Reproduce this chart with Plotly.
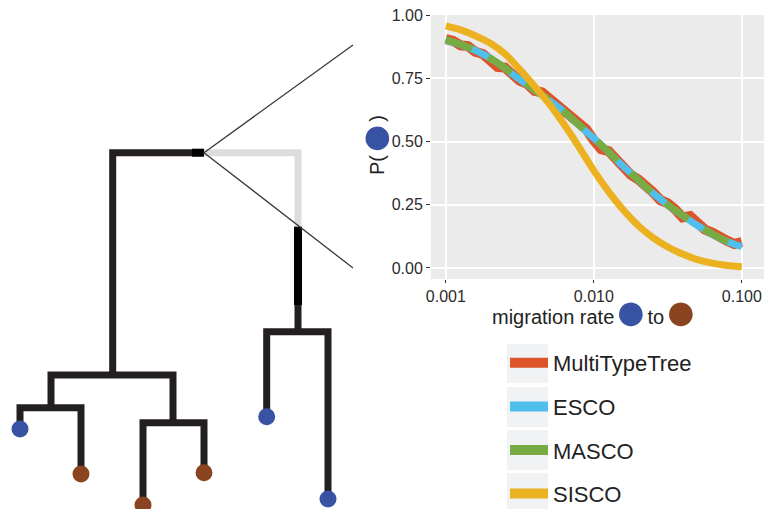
import plotly.graph_objects as go

# ---------------- data ----------------
rate = [0.00100, 0.00112, 0.00126, 0.00141, 0.00158, 0.00178, 0.00200, 0.00224, 0.00251, 0.00282,
        0.00316, 0.00355, 0.00398, 0.00447, 0.00501, 0.00562, 0.00631, 0.00708, 0.00794, 0.00891,
        0.0100, 0.0112, 0.0126, 0.0141, 0.0158, 0.0178, 0.0200, 0.0224, 0.0251, 0.0282,
        0.0316, 0.0355, 0.0398, 0.0447, 0.0501, 0.0562, 0.0631, 0.0708, 0.0794, 0.0891, 0.100]

p_multitypetree = [0.905, 0.898, 0.880, 0.877, 0.855, 0.846, 0.820, 0.795, 0.792, 0.765,
                   0.740, 0.728, 0.700, 0.694, 0.668, 0.650, 0.622, 0.590, 0.572, 0.548,
                   0.505, 0.470, 0.462, 0.432, 0.395, 0.368, 0.350, 0.318, 0.300, 0.268,
                   0.256, 0.232, 0.200, 0.205, 0.178, 0.152, 0.140, 0.120, 0.108, 0.095, 0.102]

p_esco = [0.901, 0.892, 0.883, 0.872, 0.860, 0.845, 0.828, 0.810, 0.790, 0.767,
          0.745, 0.725, 0.703, 0.683, 0.662, 0.640, 0.617, 0.591, 0.565, 0.539,
          0.513, 0.486, 0.458, 0.430, 0.402, 0.375, 0.347, 0.321, 0.296, 0.272,
          0.249, 0.228, 0.207, 0.187, 0.168, 0.151, 0.134, 0.118, 0.105, 0.094, 0.084]

p_masco = [0.903, 0.893, 0.884, 0.873, 0.861, 0.846, 0.829, 0.811, 0.791, 0.768,
           0.746, 0.726, 0.704, 0.684, 0.663, 0.641, 0.618, 0.592, 0.566, 0.540,
           0.514, 0.487, 0.459, 0.431, 0.403, 0.376, 0.348, 0.322, 0.297, 0.273,
           0.250, 0.229, 0.208, 0.188, 0.169, 0.152, 0.135, 0.119, 0.106, 0.095, 0.086]

rate_sisco = [0.00100, 0.00126, 0.00158, 0.00200, 0.00251, 0.00316, 0.00398, 0.00501, 0.00631, 0.00794,
              0.0100, 0.0126, 0.0158, 0.0200, 0.0251, 0.0316, 0.0398, 0.0501, 0.0631, 0.0794, 0.100]
p_sisco = [0.957, 0.941, 0.918, 0.888, 0.846, 0.785, 0.718, 0.648, 0.567, 0.478,
           0.385, 0.302, 0.230, 0.167, 0.120, 0.083, 0.055, 0.033, 0.019, 0.010, 0.005]

series_names = ["MultiTypeTree", "ESCO", "MASCO", "SISCO"]
series_colors = ["#dc5428", "#4fc0ee", "#76ac42", "#ecb120"]

x_tickvals = [0.001, 0.01, 0.1]
x_ticktext = ["0.001", "0.010", "0.100"]
x_minor_vals = [0.00316, 0.0316]
y_tickvals = [0.0, 0.25, 0.5, 0.75, 1.0]
y_ticktext = ["0.00", "0.25", "0.50", "0.75", "1.00"]
y_minor_vals = [0.125, 0.375, 0.625, 0.875]

# tree (schematic units): black branches, highlighted (grey) branch, emphasized segment
tree_dark_x = [204, 112.7, 112.7, None, 51, 51, 173, 173, None, 20, 20, 81, 81, None,
               143, 143, 204, 204, None, 298, 298, None, 266.7, 266.7, 328, 328]
tree_dark_y = [152.7, 152.7, 375, None, 407.7, 375, 375, 422.7, None, 429, 407.7, 407.7, 474, None,
               505, 422.7, 422.7, 472.7, None, 305, 331.7, None, 416.7, 331.7, 331.7, 499]
tree_grey_x = [204, 298, 298]
tree_grey_y = [152.7, 152.7, 226.7]
tree_black_x = [298, 298, None, 192, 204]
tree_black_y = [226.7, 305, None, 152.7, 152.7]
leaf_x = [20, 81, 143, 204, 266.7, 328]
leaf_y = [429, 474, 505, 472.7, 416.7, 499]
leaf_state = ["blue", "brown", "brown", "brown", "blue", "blue"]
state_colors = {"blue": "#3953a4", "brown": "#8a4420"}
zoom_x = [353, 204, 353]
zoom_y = [45, 152.7, 268]

# ---------------- figure ----------------
W, H = 764, 509
fig = go.Figure()

series = [(rate, p_multitypetree, 10, "solid"), (rate, p_esco, 7, "solid"),
          (rate, p_masco, 7, "28px,18px"), (rate_sisco, p_sisco, 7, "solid")]
for i, (xs, ys, w, dash) in enumerate(series):
    grp = series_names[i]
    fig.add_trace(go.Scatter(x=xs, y=ys, name=grp, mode="lines", showlegend=False,
                             line=dict(color=series_colors[i], width=w, dash=dash,
                                       shape="linear" if i == 0 else "spline"),
                             legendgroup=grp, xaxis="x", yaxis="y"))
for i, grp in enumerate(series_names):
    # legend key (ggplot-style solid bar)
    fig.add_trace(go.Scatter(x=[None], y=[None], name=grp, mode="lines", legendgroup=grp,
                             line=dict(color=series_colors[i], width=10), xaxis="x", yaxis="y"))

fig.add_trace(go.Scatter(x=tree_grey_x, y=tree_grey_y, mode="lines", showlegend=False,
                         line=dict(color="#dcdddd", width=7), xaxis="x2", yaxis="y2", hoverinfo="skip"))
fig.add_trace(go.Scatter(x=tree_dark_x, y=tree_dark_y, mode="lines", showlegend=False,
                         line=dict(color="#231f20", width=7), xaxis="x2", yaxis="y2", hoverinfo="skip"))
fig.add_trace(go.Scatter(x=tree_black_x, y=tree_black_y, mode="lines", showlegend=False,
                         line=dict(color="#000000", width=8), xaxis="x2", yaxis="y2", hoverinfo="skip"))
fig.add_trace(go.Scatter(x=leaf_x, y=leaf_y, mode="markers", showlegend=False,
                         marker=dict(color=[state_colors[s] for s in leaf_state], size=17),
                         xaxis="x2", yaxis="y2", hoverinfo="skip"))
fig.add_trace(go.Scatter(x=zoom_x, y=zoom_y, mode="lines", showlegend=False,
                         line=dict(color="#3a3a3a", width=1.3), xaxis="x2", yaxis="y2", hoverinfo="skip"))

panel_l, panel_r, panel_t, panel_b = 431, 764, 15, 279
tick_font = dict(family="Liberation Sans, Arial, sans-serif", size=16, color="#2b2b2b")
x_range = [-3.1, -0.85]
y_range = [-0.0435, 1.0]
dot = '<span style="color:{c};font-size:55px;baseline-shift:{s}px">●</span>'
x_title = "migration rate" + dot.format(c="#3953a4", s=-6) + "to" + dot.format(c="#8a4420", s=-6)
y_title = "P(" + dot.format(c="#3953a4", s=-9) + ")"

fig.update_layout(
    width=W, height=H,
    margin=dict(l=0, r=0, t=0, b=0, autoexpand=False),
    paper_bgcolor="white", plot_bgcolor="rgba(0,0,0,0)",
    font=dict(family="Liberation Sans, Arial, sans-serif", color="#222222"),
    xaxis=dict(
        domain=[panel_l / W, panel_r / W], type="log", range=x_range,
        tickmode="array", tickvals=x_tickvals, ticktext=x_ticktext,
        ticks="outside", ticklen=3, tickcolor="#333333", tickwidth=1,
        tickfont=tick_font, showgrid=True, gridcolor="white", gridwidth=1.6,
        zeroline=False, showline=False, automargin=False, anchor="y",
    ),
    yaxis=dict(
        domain=[1 - panel_b / H, 1 - panel_t / H], range=y_range,
        tickmode="array", tickvals=y_tickvals, ticktext=y_ticktext,
        ticks="outside", ticklen=4, tickcolor="#333333", tickwidth=1,
        tickfont=tick_font, showgrid=True, gridcolor="white", gridwidth=1.6,
        zeroline=False, showline=False, automargin=False, anchor="x",
    ),
    # thin secondary grid (ggplot minor grid lines)
    xaxis3=dict(overlaying="x", anchor="y", type="log", range=x_range,
                tickmode="array", tickvals=x_minor_vals, showticklabels=False, ticks="",
                showgrid=True, gridcolor="white", gridwidth=0.8, zeroline=False, showline=False),
    yaxis3=dict(overlaying="y", anchor="x", range=y_range,
                tickmode="array", tickvals=y_minor_vals, showticklabels=False, ticks="",
                showgrid=True, gridcolor="white", gridwidth=0.8, zeroline=False, showline=False),
    xaxis2=dict(domain=[0, 1], range=[0, W], visible=False, anchor="y2"),
    yaxis2=dict(domain=[0, 1], range=[H, 0], visible=False, anchor="x2"),
    showlegend=True,
    legend=dict(x=505 / W, y=1 - 342 / H, xanchor="left", yanchor="top",
                font=dict(size=22, color="#222222"), tracegroupgap=12,
                itemwidth=38, bgcolor="rgba(0,0,0,0)", borderwidth=0),
    annotations=[
        dict(text=x_title, xref="paper", yref="paper", x=594 / W, y=1 - 311 / H,
             xanchor="center", yanchor="middle", showarrow=False,
             font=dict(size=20, color="#222222")),
        dict(text=y_title, xref="paper", yref="paper", x=374 / W, y=1 - 145 / H,
             xanchor="center", yanchor="middle", showarrow=False, textangle=-90,
             font=dict(size=20, color="#222222")),
    ],
    shapes=[dict(type="rect", xref="x domain", yref="y domain", x0=0, x1=1, y0=0, y1=1,
                 fillcolor="#ebebeb", line=dict(width=0), layer="below")]
    + [dict(type="rect", xref="paper", yref="paper", x0=507 / W, x1=548 / W,
            y0=1 - yb / H, y1=1 - yt / H, fillcolor="#f1f2f3", line=dict(width=0), layer="below")
       for yt, yb in [(344, 383), (387, 427), (430, 470), (473, 513)]],
)

fig.write_html("out.html")
